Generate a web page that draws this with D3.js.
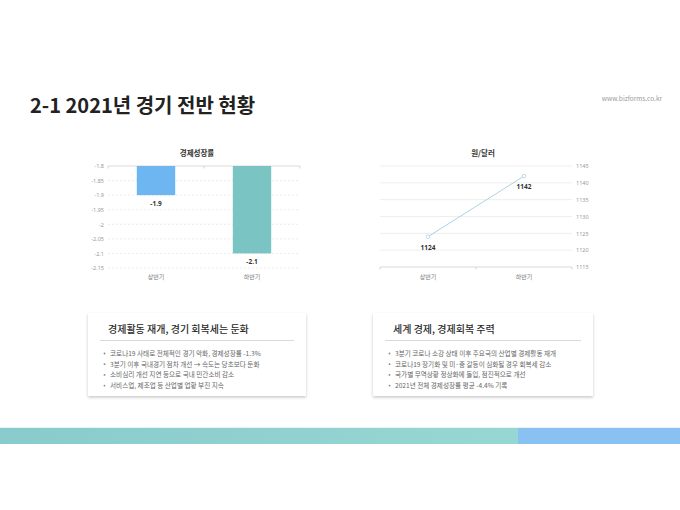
<!DOCTYPE html>
<html>
<head>
<meta charset="utf-8">
<script src="https://cdn.jsdelivr.net/npm/d3@7"></script>
<style>
  body { margin: 0; background: #fff; }
  svg { display: block; font-family: "Noto Sans CJK KR", "Noto Sans", sans-serif; }
</style>
</head>
<body>
<div id="canvas"></div>
<script>
"use strict"

// data
let periods = ["상반기", "하반기"];
let growthRates = [-1.9, -2.1];
let growthTicks = [-1.8, -1.85, -1.9, -1.95, -2, -2.05, -2.1, -2.15];
let exchangeRates = [1124, 1142];
let rateTicks = [1115, 1120, 1125, 1130, 1135, 1140, 1145];
let barColors = ["#6db6f2", "#7ac5c4"];

let leftTitle = "경제활동 재개, 경기 회복세는 둔화";
let leftBullets = [
    "코로나19 사태로 전체적인 경기 악화, 경제성장률 -1.3%",
    "3분기 이후 국내경기 점차 개선 → 속도는 당초보다 둔화",
    "소비심리 개선 지연 등으로 국내 민간소비 감소",
    "서비스업, 제조업 등 산업별 업황 부진 지속"
];
let rightTitle = "세계 경제, 경제회복 주력";
let rightBullets = [
    "3분기 코로나 소강 상태 이후 주요국의 산업별 경제활동 재개",
    "코로나19 장기화 및 미·중 갈등이 심화될 경우 회복세 감소",
    "국가별 무역상황 정상화에 돌입, 점진적으로 개선",
    "2021년 전체 경제성장률 평균 -4.4% 기록"
];

let drawingWidth = 680;
let drawingHeight = 510;

let drawing = d3.select("#canvas")
    .append("svg")
    .attr("width", drawingWidth)
    .attr("height", drawingHeight);

drawing.append("rect")
    .attr("width", drawingWidth)
    .attr("height", drawingHeight)
    .attr("fill", "#ffffff");

let defs = drawing.append("defs");
let shadow = defs.append("filter")
    .attr("id", "shadow")
    .attr("x", "-10%").attr("y", "-10%")
    .attr("width", "120%").attr("height", "130%");
shadow.append("feDropShadow")
    .attr("dx", 0).attr("dy", 1.5)
    .attr("stdDeviation", 1.8)
    .attr("flood-color", "#000")
    .attr("flood-opacity", 0.22);

let bandGrad = defs.append("linearGradient").attr("id", "band");
bandGrad.append("stop").attr("offset", "0%").attr("stop-color", "#89cbcc");
bandGrad.append("stop").attr("offset", "100%").attr("stop-color", "#97d7d3");

/* header */
drawing.append("text")
    .attr("x", 30)
    .attr("y", 113)
    .attr("font-size", 20)
    .attr("font-weight", 700)
    .attr("fill", "#222")
    .text("2-1 2021년 경기 전반 현황");

drawing.append("text")
    .attr("x", 662)
    .attr("y", 101)
    .attr("text-anchor", "end")
    .attr("font-size", 6.5)
    .attr("fill", "#9a9a9a")
    .text("www.bizforms.co.kr");

/* bar chart: 경제성장률 */
let barX = d3.scaleBand().domain(periods).range([108, 300]).paddingInner(0).paddingOuter(0);
let barY = d3.scaleLinear().domain([-2.15, -1.8]).range([268, 166]);
let barPad = 0.3;

drawing.append("text")
    .attr("x", 197)
    .attr("y", 156)
    .attr("text-anchor", "middle")
    .attr("font-size", 7.5)
    .attr("font-weight", 700)
    .attr("fill", "#333")
    .text("경제성장률");

// dashed grid for everything below the top value
drawing.append("g")
    .selectAll("line")
    .data(growthTicks.slice(1))
    .join("line")
    .attr("x1", 108)
    .attr("x2", 300)
    .attr("y1", d => barY(d))
    .attr("y2", d => barY(d))
    .attr("stroke", "#dedede")
    .attr("stroke-width", 0.6)
    .attr("stroke-dasharray", "2,2");

let barAxisLeft = drawing.append("g")
    .attr("transform", "translate(108,0)")
    .call(d3.axisLeft(barY).tickValues(growthTicks).tickSize(0).tickPadding(4).tickFormat(d => String(d)));
barAxisLeft.select(".domain").remove();
barAxisLeft.selectAll("text")
    .attr("font-size", 5.5)
    .attr("fill", "#999")
    .attr("font-family", "'Noto Sans', sans-serif");

// category axis sits on the -1.8 line
let barAxisTop = drawing.append("g")
    .attr("transform", "translate(0," + barY(-1.8) + ")");
barAxisTop.append("line")
    .attr("x1", 108).attr("x2", 300)
    .attr("stroke", "#c8c8c8").attr("stroke-width", 0.7);
barAxisTop.selectAll(".tick")
    .data([108].concat(periods.map(p => barX(p) + barX.bandwidth())))
    .join("line")
    .attr("x1", d => d).attr("x2", d => d)
    .attr("y1", 0).attr("y2", 2.5)
    .attr("stroke", "#c8c8c8").attr("stroke-width", 0.7);

drawing.append("g")
    .selectAll("rect")
    .data(growthRates)
    .join("rect")
    .attr("x", (d, i) => barX(periods[i]) + barX.bandwidth() * barPad)
    .attr("width", barX.bandwidth() * (1 - 2 * barPad))
    .attr("y", barY(-1.8))
    .attr("height", d => barY(d) - barY(-1.8))
    .attr("fill", (d, i) => barColors[i]);

drawing.append("g")
    .selectAll("text")
    .data(growthRates)
    .join("text")
    .attr("x", (d, i) => barX(periods[i]) + barX.bandwidth() / 2)
    .attr("y", d => barY(d) + 11)
    .attr("text-anchor", "middle")
    .attr("font-size", 6.5)
    .attr("font-weight", 700)
    .attr("fill", "#333")
    .attr("font-family", "'Noto Sans', sans-serif")
    .text(d => String(d));

drawing.append("g")
    .selectAll("text")
    .data(periods)
    .join("text")
    .attr("x", d => barX(d) + barX.bandwidth() / 2)
    .attr("y", 279)
    .attr("text-anchor", "middle")
    .attr("font-size", 6)
    .attr("fill", "#777")
    .text(d => d);

/* line chart: 원/달러 */
let lineX = d3.scaleBand().domain(periods).range([380, 572]);
let lineY = d3.scaleLinear().domain([1115, 1145]).range([267, 166]);

drawing.append("text")
    .attr("x", 483)
    .attr("y", 156)
    .attr("text-anchor", "middle")
    .attr("font-size", 7.5)
    .attr("font-weight", 700)
    .attr("fill", "#333")
    .text("원/달러");

drawing.append("g")
    .selectAll("line")
    .data(rateTicks.slice(1))
    .join("line")
    .attr("x1", 380)
    .attr("x2", 572)
    .attr("y1", d => lineY(d))
    .attr("y2", d => lineY(d))
    .attr("stroke", "#e6e6e6")
    .attr("stroke-width", 0.7);

let lineAxisRight = drawing.append("g")
    .attr("transform", "translate(572,0)")
    .call(d3.axisRight(lineY).tickValues(rateTicks).tickSize(0).tickPadding(4).tickFormat(d => String(d)));
lineAxisRight.select(".domain").remove();
lineAxisRight.selectAll("text")
    .attr("font-size", 5.5)
    .attr("fill", "#999")
    .attr("font-family", "'Noto Sans', sans-serif");

let lineAxisBottom = drawing.append("g")
    .attr("transform", "translate(0,267)");
lineAxisBottom.append("line")
    .attr("x1", 380).attr("x2", 572)
    .attr("stroke", "#c8c8c8").attr("stroke-width", 0.7);
lineAxisBottom.selectAll(".tick")
    .data([380].concat(periods.map(p => lineX(p) + lineX.bandwidth())))
    .join("line")
    .attr("x1", d => d).attr("x2", d => d)
    .attr("y1", 0).attr("y2", 2.5)
    .attr("stroke", "#c8c8c8").attr("stroke-width", 0.7);

let rateLine = d3.line()
    .x((d, i) => lineX(periods[i]) + lineX.bandwidth() / 2)
    .y(d => lineY(d));

drawing.append("path")
    .datum(exchangeRates)
    .attr("d", rateLine)
    .attr("fill", "none")
    .attr("stroke", "#acd4e2")
    .attr("stroke-width", 1);

drawing.append("g")
    .selectAll("circle")
    .data(exchangeRates)
    .join("circle")
    .attr("cx", (d, i) => lineX(periods[i]) + lineX.bandwidth() / 2)
    .attr("cy", d => lineY(d))
    .attr("r", 1.8)
    .attr("fill", "#fff")
    .attr("stroke", "#acd4e2")
    .attr("stroke-width", 0.8);

drawing.append("g")
    .selectAll("text")
    .data(exchangeRates)
    .join("text")
    .attr("x", (d, i) => lineX(periods[i]) + lineX.bandwidth() / 2)
    .attr("y", d => lineY(d) + 13)
    .attr("text-anchor", "middle")
    .attr("font-size", 6.5)
    .attr("font-weight", 700)
    .attr("fill", "#333")
    .attr("font-family", "'Noto Sans', sans-serif")
    .text(d => d);

drawing.append("g")
    .selectAll("text")
    .data(periods)
    .join("text")
    .attr("x", d => lineX(d) + lineX.bandwidth() / 2)
    .attr("y", 279)
    .attr("text-anchor", "middle")
    .attr("font-size", 6)
    .attr("fill", "#777")
    .text(d => d);

/* summary cards */
function drawCard(x, w, title, bullets) {
    let card = drawing.append("g");
    card.append("rect")
        .attr("x", x)
        .attr("y", 313)
        .attr("width", w)
        .attr("height", 83)
        .attr("fill", "#fff")
        .attr("filter", "url(#shadow)");
    card.append("text")
        .attr("x", x + 20)
        .attr("y", 333)
        .attr("font-size", 10)
        .attr("font-weight", 500)
        .attr("fill", "#2a2a2a")
        .text(title);
    card.append("line")
        .attr("x1", x + 12)
        .attr("x2", x + w - 12)
        .attr("y1", 340.5)
        .attr("y2", 340.5)
        .attr("stroke", "#cfcfcf")
        .attr("stroke-width", 0.8);
    card.selectAll(".dot")
        .data(bullets)
        .join("circle")
        .attr("cx", x + 16.5)
        .attr("cy", (d, i) => 353.5 + i * 10.7)
        .attr("r", 0.9)
        .attr("fill", "#888");
    card.selectAll(".line")
        .data(bullets)
        .join("text")
        .attr("x", x + 22)
        .attr("y", (d, i) => 355.8 + i * 10.7)
        .attr("font-size", 6.6)
        .attr("fill", "#666")
        .text(d => d);
}

drawCard(88, 218, leftTitle, leftBullets);
drawCard(373, 220, rightTitle, rightBullets);

/* bottom band */
drawing.append("rect")
    .attr("x", 0)
    .attr("y", 428)
    .attr("width", 518)
    .attr("height", 16)
    .attr("fill", "url(#band)");
drawing.append("rect")
    .attr("x", 518)
    .attr("y", 428)
    .attr("width", 162)
    .attr("height", 16)
    .attr("fill", "#88c1f2");
drawing.append("line")
    .attr("x1", 0).attr("x2", 680)
    .attr("y1", 427.5).attr("y2", 427.5)
    .attr("stroke", "#e3f4f3").attr("stroke-width", 1);
</script>
</body>
</html>
